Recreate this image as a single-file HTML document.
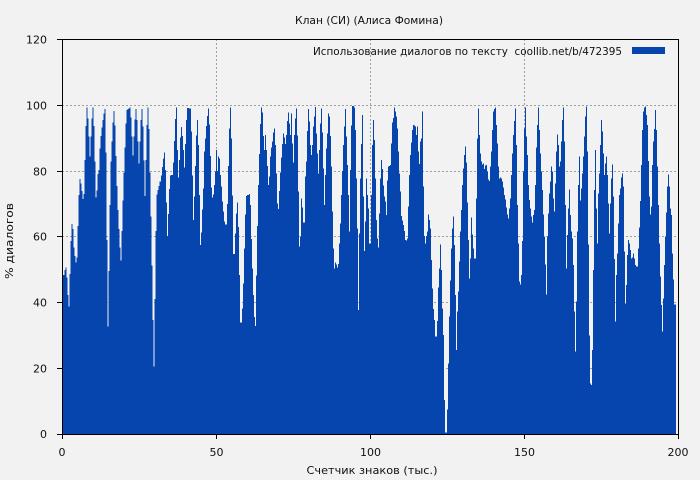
<!DOCTYPE html>
<html><head><meta charset="utf-8"><style>
html,body{margin:0;padding:0;background:#f2f2f2;}
svg{display:block;}
text{font-family:"DejaVu Sans","Liberation Sans",sans-serif;font-size:11px;fill:#111;}
</style></head><body>
<svg width="700" height="480" viewBox="0 0 700 480" xmlns="http://www.w3.org/2000/svg">
<rect x="0" y="0" width="700" height="480" fill="#f2f2f2"/>
<!-- grid -->
<g stroke="#a0a0a0" stroke-width="1" stroke-dasharray="2,2" fill="none">
<line x1="62" y1="105.5" x2="678" y2="105.5"/>
<line x1="62" y1="171.5" x2="678" y2="171.5"/>
<line x1="62" y1="236.5" x2="678" y2="236.5"/>
<line x1="62" y1="302.5" x2="678" y2="302.5"/>
<line x1="62" y1="368.5" x2="678" y2="368.5"/>
<line x1="216.5" y1="39" x2="216.5" y2="434"/>
<line x1="370.5" y1="39" x2="370.5" y2="434"/>
<line x1="524.5" y1="39" x2="524.5" y2="434"/>
</g>
<!-- bars -->
<g fill="#0645ad" shape-rendering="crispEdges">
<path transform="translate(55,35) scale(0.333333)" d="M21,1197 V720 H28 V705 H31 V697 H34 V727 H37 V780 H40 V815 H43 V717 H46 V618 H49 V567 H52 V582 H55 V638 H58 V663 H61 V683 H64 V668 H67 V573 H70 V480 H73 V432 H76 V445 H79 V468 H82 V492 H85 V477 H88 V375 H91 V273 H94 V218 H97 V250 H100 V305 H103 V365 H106 V305 H109 V250 H112 V218 H115 V273 H118 V380 H121 V488 H124 V467 H127 V417 H130 V405 H133 V340 H136 V303 H139 V277 H142 V255 H145 V235 H148 V222 H151 V353 H154 V615 H157 V875 H160 V708 H163 V510 H166 V380 H169 V320 H172 V262 H175 V228 H178 V272 H181 V363 H184 V453 H187 V525 H190 V582 H193 V638 H196 V677 H199 V588 H202 V497 H205 V413 H208 V338 H211 V265 H214 V225 H217 V222 H220 V220 H223 V218 H226 V248 H229 V305 H232 V362 H235 V305 H238 V253 H241 V222 H244 V255 H247 V320 H250 V385 H253 V320 H256 V255 H259 V222 H262 V275 H265 V377 H268 V483 H271 V375 H274 V270 H277 V217 H280 V282 H283 V412 H286 V545 H289 V692 H292 V855 H295 V995 H298 V792 H301 V588 H304 V478 H307 V465 H310 V453 H313 V440 H315 V1197 Z"/>
<path transform="translate(160,35) scale(0.333333)" d="M0,1197 V440 H3 V422 H6 V396 H9 V370 H12 V353 H15 V405 H18 V503 H21 V603 H24 V537 H27 V462 H30 V422 H33 V420 H39 V383 H42 V318 H45 V252 H48 V218 H51 V345 H54 V428 H57 V375 H60 V308 H63 V276 H66 V303 H69 V345 H72 V398 H75 V327 H78 V255 H81 V219 H87 V221 H93 V290 H96 V422 H99 V555 H102 V485 H105 V393 H108 V302 H111 V255 H114 V330 H117 V480 H120 V630 H123 V593 H126 V523 H129 V460 H132 V350 H135 V310 H138 V273 H141 V243 H144 V220 H147 V268 H150 V363 H153 V458 H156 V488 H159 V478 H162 V450 H165 V410 H168 V345 H171 V408 H174 V365 H177 V370 H180 V420 H183 V455 H186 V500 H189 V530 H192 V560 H195 V568 H201 V507 H204 V393 H207 V280 H210 V218 H213 V310 H216 V482 H219 V657 H225 V595 H228 V535 H231 V503 H234 V576 H237 V720 H240 V862 H246 V820 H249 V745 H252 V640 H255 V538 H258 V483 H261 V480 H267 V477 H270 V510 H273 V612 H276 V700 H279 V780 H282 V846 H285 V873 H288 V722 H291 V573 H294 V450 H297 V357 H300 V267 H303 V218 H306 V233 H309 V303 H312 V345 H315 V1197 Z"/>
<path transform="translate(265,35) scale(0.333333)" d="M0,1197 V300 H3 V345 H6 V393 H9 V450 H12 V425 H15 V365 H18 V337 H21 V320 H24 V292 H27 V280 H30 V330 H33 V415 H36 V505 H39 V522 H42 V468 H45 V413 H48 V368 H51 V327 H54 V295 H57 V307 H60 V327 H63 V300 H66 V258 H69 V232 H72 V265 H75 V300 H78 V235 H81 V325 H84 V382 H87 V300 H90 V250 H93 V220 H96 V302 H99 V470 H102 V635 H105 V605 H108 V490 H111 V517 H114 V562 H120 V425 H123 V380 H126 V288 H129 V222 H132 V260 H135 V330 H138 V360 H141 V330 H144 V275 H147 V244 H150 V216 H153 V295 H156 V355 H159 V415 H162 V345 H165 V265 H168 V220 H171 V293 H174 V400 H177 V510 H180 V420 H183 V340 H186 V295 H189 V235 H192 V245 H195 V303 H198 V395 H201 V530 H204 V640 H207 V700 H210 V683 H213 V688 H216 V698 H219 V687 H222 V625 H225 V565 H228 V480 H231 V408 H234 V330 H237 V275 H240 V222 H243 V305 H246 V390 H249 V480 H252 V590 H255 V405 H258 V272 H261 V213 H267 V218 H270 V285 H273 V430 H276 V580 H279 V825 H282 V595 H285 V430 H288 V327 H291 V240 H294 V485 H297 V648 H300 V560 H303 V430 H306 V480 H309 V520 H312 V625 H315 V1197 Z"/>
<path transform="translate(370,35) scale(0.333333)" d="M0,1197 V625 H3 V480 H6 V330 H9 V255 H12 V315 H15 V430 H18 V555 H21 V610 H24 V637 H27 V535 H30 V430 H33 V375 H36 V402 H39 V452 H42 V485 H45 V500 H48 V540 H51 V437 H54 V395 H57 V393 H60 V390 H63 V325 H66 V262 H69 V249 H72 V218 H75 V230 H78 V245 H81 V280 H84 V350 H87 V415 H90 V470 H93 V543 H96 V556 H99 V570 H102 V588 H105 V615 H108 V617 H111 V610 H114 V515 H117 V420 H120 V360 H123 V323 H126 V285 H129 V270 H132 V272 H135 V275 H138 V300 H141 V275 H144 V350 H147 V387 H150 V320 H153 V310 H156 V230 H159 V455 H162 V603 H165 V625 H168 V603 H171 V590 H174 V538 H177 V555 H180 V580 H183 V675 H186 V760 H189 V822 H192 V855 H195 V905 H201 V858 H204 V758 H207 V700 H210 V628 H213 V705 H216 V820 H219 V900 H222 V1095 H225 V1192 H231 V1123 H234 V985 H237 V845 H240 V737 H243 V640 H246 V580 H249 V545 H252 V630 H255 V780 H258 V945 H261 V830 H264 V770 H267 V680 H270 V590 H273 V525 H276 V450 H279 V400 H282 V360 H285 V335 H288 V382 H291 V503 H294 V615 H297 V730 H300 V670 H303 V548 H306 V598 H309 V640 H312 V670 H315 V1197 Z"/>
<path transform="translate(475,35) scale(0.333333)" d="M0,1197 V670 H3 V490 H6 V310 H9 V220 H12 V300 H15 V355 H18 V380 H21 V388 H24 V385 H27 V402 H30 V392 H33 V390 H36 V410 H39 V433 H42 V438 H45 V395 H48 V350 H51 V285 H54 V230 H57 V222 H60 V218 H63 V270 H66 V325 H69 V395 H72 V430 H75 V428 H78 V430 H81 V440 H84 V457 H87 V480 H90 V493 H93 V518 H96 V538 H99 V550 H102 V520 H105 V490 H108 V420 H111 V355 H114 V300 H117 V258 H120 V220 H123 V330 H126 V510 H129 V625 H132 V740 H135 V748 H138 V720 H141 V618 H144 V410 H147 V280 H150 V218 H153 V305 H156 V360 H159 V450 H162 V495 H165 V520 H168 V545 H171 V563 H174 V540 H177 V525 H180 V450 H183 V338 H186 V270 H189 V218 H192 V285 H195 V355 H198 V410 H201 V465 H204 V538 H207 V605 H210 V688 H213 V778 H216 V605 H219 V535 H222 V475 H225 V440 H228 V395 H231 V410 H234 V490 H237 V530 H240 V445 H243 V350 H246 V298 H249 V330 H252 V395 H255 V380 H258 V320 H261 V255 H264 V218 H267 V320 H270 V510 H273 V700 H276 V600 H279 V520 H282 V463 H285 V540 H288 V590 H291 V610 H294 V690 H297 V830 H300 V950 H303 V800 H306 V590 H309 V450 H312 V365 H315 V1197 Z"/>
<path transform="translate(580,35) scale(0.333333)" d="M0,1197 V497 H3 V460 H6 V415 H9 V365 H12 V305 H15 V245 H18 V215 H21 V350 H24 V628 H27 V902 H30 V1045 H33 V1050 H36 V945 H39 V705 H42 V465 H45 V345 H48 V520 H51 V625 H54 V475 H57 V415 H60 V330 H63 V255 H66 V290 H69 V355 H72 V420 H75 V385 H78 V365 H81 V420 H84 V505 H87 V595 H90 V505 H93 V430 H96 V388 H99 V485 H102 V672 H105 V860 H108 V720 H111 V655 H114 V565 H117 V480 H120 V460 H123 V428 H126 V415 H129 V455 H132 V650 H135 V805 H138 V750 H141 V660 H144 V615 H147 V625 H150 V645 H153 V670 H156 V668 H159 V655 H162 V670 H165 V690 H168 V695 H174 V640 H177 V578 H180 V498 H183 V390 H186 V285 H189 V230 H192 V218 H195 V215 H198 V240 H201 V270 H204 V378 H207 V485 H210 V538 H213 V515 H216 V390 H219 V320 H222 V282 H225 V225 H228 V285 H231 V395 H234 V510 H237 V625 H240 V725 H243 V810 H246 V890 H249 V790 H252 V690 H255 V605 H258 V532 H261 V455 H264 V418 H267 V455 H270 V520 H273 V540 H276 V655 H279 V733 H282 V808 H288 V1197 Z"/>
</g>
<!-- frame/axes -->
<g stroke="#000" stroke-width="1" fill="none" shape-rendering="crispEdges">
<line x1="62" y1="39.5" x2="679" y2="39.5"/>
<line x1="678.5" y1="39" x2="678.5" y2="435"/>
<line x1="62.5" y1="39" x2="62.5" y2="435"/>
<line x1="57" y1="434.5" x2="679" y2="434.5"/>
<line x1="57" y1="39.5" x2="62" y2="39.5"/>
<line x1="57" y1="105.5" x2="62" y2="105.5"/>
<line x1="57" y1="171.5" x2="62" y2="171.5"/>
<line x1="57" y1="236.5" x2="62" y2="236.5"/>
<line x1="57" y1="302.5" x2="62" y2="302.5"/>
<line x1="57" y1="368.5" x2="62" y2="368.5"/>
<line x1="62.5" y1="434" x2="62.5" y2="439"/>
<line x1="216.5" y1="434" x2="216.5" y2="439"/>
<line x1="370.5" y1="434" x2="370.5" y2="439"/>
<line x1="524.5" y1="434" x2="524.5" y2="439"/>
<line x1="678.5" y1="434" x2="678.5" y2="439"/>
</g>
<!-- y tick labels -->
<g text-anchor="end">
<text x="47" y="43.5">120</text>
<text x="47" y="109.5">100</text>
<text x="47" y="175.5">80</text>
<text x="47" y="240.5">60</text>
<text x="47" y="306.5">40</text>
<text x="47" y="372.5">20</text>
<text x="47" y="438">0</text>
</g>
<!-- x tick labels -->
<g text-anchor="middle">
<text x="62" y="456">0</text>
<text x="216.5" y="456">50</text>
<text x="370.5" y="456">100</text>
<text x="524.5" y="456">150</text>
<text x="678" y="456">200</text>
</g>
<text x="369" y="24" text-anchor="middle" textLength="148" lengthAdjust="spacingAndGlyphs">Клан (СИ) (Алиса Фомина)</text>
<text x="372" y="474" text-anchor="middle" textLength="131" lengthAdjust="spacingAndGlyphs">Счетчик знаков (тыс.)</text>
<text transform="translate(13,241) rotate(-90)" text-anchor="middle" textLength="76" lengthAdjust="spacingAndGlyphs">% диалогов</text>
<text x="313" y="55" textLength="309" lengthAdjust="spacingAndGlyphs">Использование диалогов по тексту&#160; coollib.net/b/472395</text>
<rect x="632" y="47" width="33" height="7" fill="#0645ad"/>
</svg>
</body></html>
